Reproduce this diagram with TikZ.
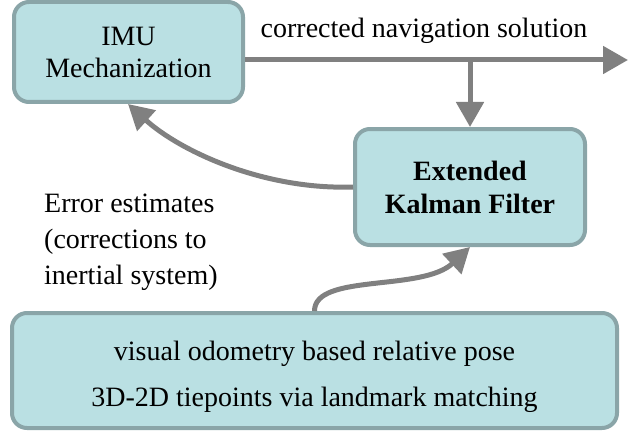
\documentclass[tikz,border=0pt]{standalone}
\usepackage{fontspec}
\setmainfont{LiberationSerif}[Extension=.ttf, UprightFont=*-Regular, BoldFont=*-Bold, ItalicFont=*-Italic, BoldItalicFont=*-BoldItalic]
\usetikzlibrary{arrows.meta}
\definecolor{boxfill}{HTML}{BAE0E3}
\definecolor{boxdraw}{HTML}{8AA5A8}
\definecolor{arrgray}{HTML}{808080}
\tikzset{
  blk/.style={draw=boxdraw, fill=boxfill, line width=4pt, rounded corners=15pt, align=center, inner sep=0pt},
  arr/.style={draw=arrgray, line width=5pt, -{Triangle[length=25pt,width=27pt]}},
  lbl/.style={font=\fontsize{28}{34}\selectfont, inner sep=0pt}
}
\begin{document}
\begin{tikzpicture}[x=1pt,y=-1pt]
\useasboundingbox (0,0) rectangle (636,433);
\node[blk, minimum width=229pt, minimum height=100pt, font=\fontsize{28}{32}\selectfont] (imu) at (128.5,52) {IMU\\Mechanization};
\node[blk, minimum width=230pt, minimum height=116pt, font=\fontsize{28}{33}\selectfont\bfseries] (ekf) at (470,187) {Extended\\Kalman Filter};
\node[blk, minimum width=605pt, minimum height=115pt] (vo) at (314.5,370.5) {};
\node[lbl, align=center, font=\fontsize{28}{46}\selectfont] (votext) at (314.5,377) {visual odometry based relative pose\\3D-2D tiepoints via landmark matching};
\coordinate (out) at (628,60);
\coordinate (jn) at (470,60);
\node[lbl, anchor=south] (nav) at (424,44) {corrected navigation solution};
\node[lbl, anchor=north west, align=left, font=\fontsize{28}{36}\selectfont] (err) at (44,194) {Error estimates\\(corrections to\\inertial system)};
\draw[arr] ([yshift=-8pt]imu.east) -- (out);
\draw[arr] (jn) -- (ekf.north);
\draw[arr] (ekf.west) .. controls +(-90,3) and +(52,47) .. ([xshift=-0.5pt]imu.south);
\draw[arr] (vo.north) .. controls +(0,-38) and +(-48,45) .. (ekf.south);
\end{tikzpicture}
\end{document}
